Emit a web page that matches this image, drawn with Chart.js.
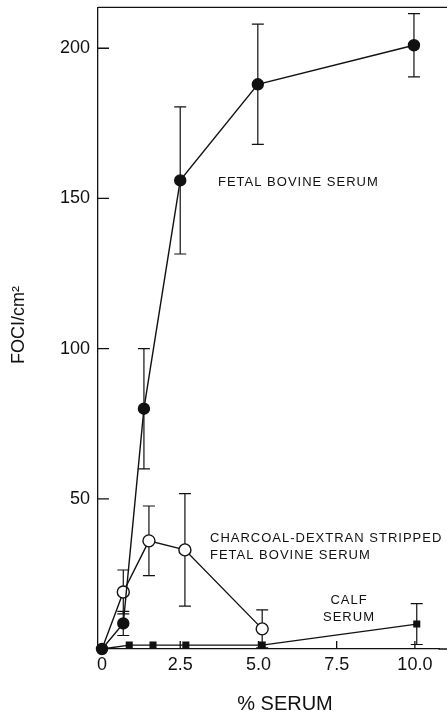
<!DOCTYPE html>
<html>
<head>
<meta charset="utf-8">
<script src="https://cdn.jsdelivr.net/npm/chart.js@4/dist/chart.umd.min.js"></script>
<style>
html, body { margin: 0; padding: 0; background: #fff; overflow: hidden; }
canvas { display: block; }
</style>
</head>
<body>
<canvas id="canvasFoci" width="447" height="713"></canvas>
<script>
"use strict";
// % serum (x) and foci/cm2 (y)
var fbsX = [0, 0.68, 1.34, 2.5, 4.98, 9.97];
var fbsY = [0, 8.5, 80, 156, 188, 201];
var fbsErr = [0, 4, 20, 24.5, 20, 10.5];

var strippedX = [0, 0.68, 1.5, 2.65, 5.12];
var strippedY = [0, 19, 36, 33, 6.7];
var strippedErr = [0, 7.3, 11.6, 18.7, 6.3];

var calfX = [0, 0.87, 1.63, 2.68, 5.12, 10.06];
var calfY = [0, 1.3, 1.3, 1.3, 1.3, 8.3];
var calfErr = [0, 0, 0, 0, 0, 6.8];

var xTicks = [0, 2.5, 5, 7.5, 10];
var xTickLabels = ['0', '2.5', '5.0', '7.5', '10.0'];
var yTicks = [50, 100, 150, 200];

var INK = '#111';
var FONT = "'Liberation Sans', Arial, sans-serif";

function toPoints(xs, ys) {
    return xs.map(function (x, i) { return { x: x, y: ys[i] }; });
}

function noPadding(scale) {
    scale.paddingLeft = 0;
    scale.paddingRight = 0;
    scale.paddingTop = 0;
    scale.paddingBottom = 0;
}

var errorBars = {
    id: 'errorBars',
    beforeDatasetsDraw: function (chart) {
        var ctx = chart.ctx, sx = chart.scales.x, sy = chart.scales.y;
        var series = [[fbsX, fbsY, fbsErr], [strippedX, strippedY, strippedErr], [calfX, calfY, calfErr]];
        ctx.save();
        ctx.strokeStyle = INK;
        ctx.lineWidth = 1.2;
        series.forEach(function (s) {
            for (var i = 0; i < s[0].length; i++) {
                if (!s[2][i]) continue;
                var px = sx.getPixelForValue(s[0][i]);
                var top = sy.getPixelForValue(s[1][i] + s[2][i]);
                var bot = sy.getPixelForValue(Math.max(0, s[1][i] - s[2][i]));
                ctx.beginPath();
                ctx.moveTo(px, top); ctx.lineTo(px, bot);
                ctx.moveTo(px - 6, top); ctx.lineTo(px + 6, top);
                ctx.moveTo(px - 6, bot); ctx.lineTo(px + 6, bot);
                ctx.stroke();
            }
        });
        ctx.restore();
    }
};

var frame = {
    id: 'frame',
    afterDraw: function (chart) {
        var ctx = chart.ctx, a = chart.chartArea, sx = chart.scales.x, sy = chart.scales.y;
        ctx.save();
        ctx.strokeStyle = INK;
        ctx.lineWidth = 1.3;
        ctx.beginPath();
        // frame runs off the right edge in the original
        ctx.moveTo(a.left, a.top); ctx.lineTo(chart.width, a.top);
        ctx.moveTo(a.right - 1, a.bottom); ctx.lineTo(chart.width, a.bottom);
        // inward tick marks
        yTicks.forEach(function (v) {
            var py = sy.getPixelForValue(v);
            ctx.moveTo(a.left, py); ctx.lineTo(a.left + 11, py);
        });
        xTicks.slice(1).forEach(function (v) {
            var px = sx.getPixelForValue(v);
            ctx.moveTo(px, a.bottom); ctx.lineTo(px, a.bottom - 8);
        });
        ctx.stroke();

        ctx.fillStyle = INK;
        ctx.textBaseline = 'middle';
        ctx.font = '20px ' + FONT;
        ctx.textAlign = 'center';
        ctx.fillText('% SERUM', 285, 704);

        ctx.save();
        ctx.translate(19, 325);
        ctx.rotate(-Math.PI / 2);
        ctx.font = '18px ' + FONT;
        ctx.fillText('FOCI/cm\u00B2', 0, 0);
        ctx.restore();

        ctx.font = '13px ' + FONT;
        ctx.letterSpacing = '1px';
        ctx.textAlign = 'left';
        ctx.fillText('FETAL BOVINE SERUM', 218, 182);
        ctx.fillText('CHARCOAL-DEXTRAN STRIPPED', 210, 538);
        ctx.fillText('FETAL BOVINE SERUM', 210, 555);
        ctx.textAlign = 'center';
        ctx.fillText('CALF', 349, 600);
        ctx.fillText('SERUM', 349, 617);
        ctx.restore();
    }
};

new Chart(document.getElementById('canvasFoci'), {
    type: 'line',
    data: {
        datasets: [{
            label: 'Fetal bovine serum',
            data: toPoints(fbsX, fbsY),
            borderColor: INK,
            borderWidth: 1.4,
            pointStyle: 'circle',
            pointRadius: 5.5,
            pointBackgroundColor: INK,
            pointBorderColor: INK,
            clip: false
        }, {
            label: 'Charcoal-dextran stripped fetal bovine serum',
            data: toPoints(strippedX, strippedY),
            borderColor: INK,
            borderWidth: 1.4,
            pointStyle: 'circle',
            pointRadius: [0, 6, 6, 6, 6],
            pointBorderWidth: 1.4,
            pointBackgroundColor: '#fff',
            pointBorderColor: INK,
            clip: false
        }, {
            label: 'Calf serum',
            data: toPoints(calfX, calfY),
            borderColor: INK,
            borderWidth: 1.4,
            pointStyle: 'rect',
            pointRadius: [0, 4, 4, 4, 4, 4],
            pointBackgroundColor: INK,
            pointBorderColor: INK,
            clip: false
        }]
    },
    options: {
        responsive: false,
        animation: false,
        devicePixelRatio: 1,
        layout: { padding: { top: 7, right: 0, left: 0, bottom: 0 } },
        plugins: { legend: { display: false }, tooltip: { enabled: false } },
        elements: { line: { tension: 0 } },
        scales: {
            x: {
                type: 'linear',
                min: -0.128,
                max: 10.79,
                afterFit: function (scale) { scale.height = 64; noPadding(scale); },
                afterBuildTicks: function (scale) {
                    scale.ticks = xTicks.map(function (v) { return { value: v }; });
                },
                grid: { display: false, drawTicks: false },
                border: { display: true, color: INK, width: 1.3 },
                ticks: {
                    autoSkip: false,
                    maxRotation: 0,
                    padding: 5,
                    color: INK,
                    font: { family: FONT, size: 18 },
                    callback: function (value) {
                        var i = xTicks.indexOf(value);
                        return i >= 0 ? xTickLabels[i] : '';
                    }
                }
            },
            y: {
                type: 'linear',
                min: 0,
                max: 213.6,
                afterFit: function (scale) { scale.width = 98; noPadding(scale); },
                afterBuildTicks: function (scale) {
                    scale.ticks = yTicks.map(function (v) { return { value: v }; });
                },
                grid: { display: false, drawTicks: false },
                border: { display: true, color: INK, width: 1.3 },
                ticks: {
                    padding: 8,
                    color: INK,
                    font: { family: FONT, size: 18 }
                }
            }
        }
    },
    plugins: [errorBars, frame]
});
</script>
</body>
</html>
